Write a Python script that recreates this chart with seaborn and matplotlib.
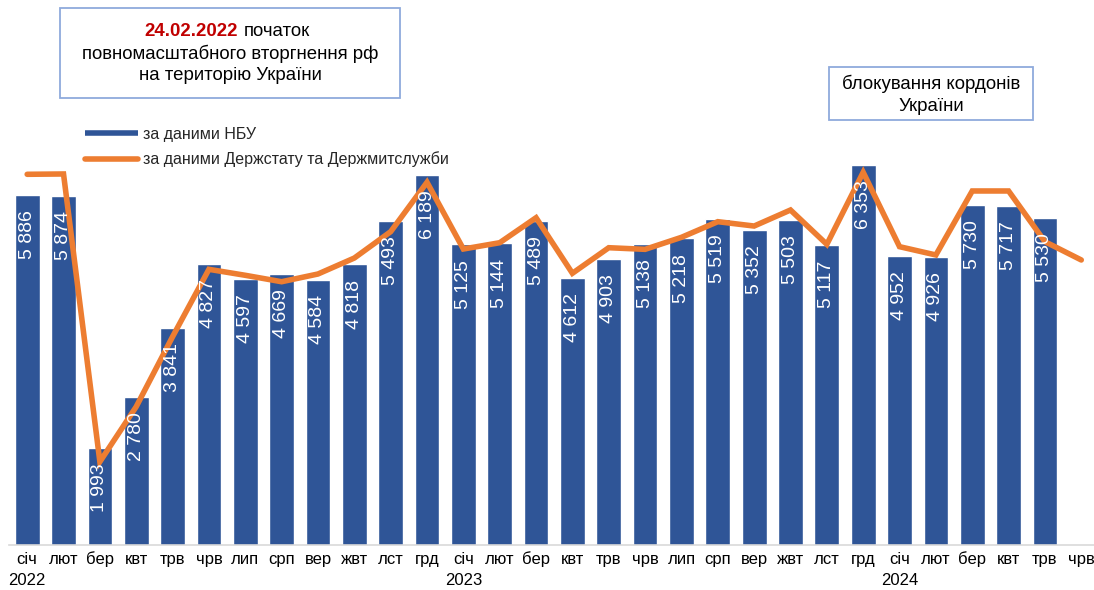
import numpy as np
import pandas as pd
import seaborn as sns
import matplotlib.pyplot as plt
from matplotlib.lines import Line2D
from matplotlib.patches import Rectangle

sns.set_theme(style="white")
plt.rcParams['font.family'] = ['Liberation Sans', 'DejaVu Sans']

# дані
months = ["січ", "лют", "бер", "квт", "трв", "чрв", "лип", "срп", "вер", "жвт", "лст", "грд"] * 2 + \
         ["січ", "лют", "бер", "квт", "трв", "чрв"]
years = [2022] * 12 + [2023] * 12 + [2024] * 6
nbu = [5886, 5874, 1993, 2780, 3841, 4827, 4597, 4669, 4584, 4818, 5493, 6189,
       5125, 5144, 5489, 4612, 4903, 5138, 5218, 5519, 5352, 5503, 5117, 6353,
       4952, 4926, 5730, 5717, 5530, np.nan]
derzhstat = [6205, 6210, 1777, 2625, 3703, 4741, 4649, 4550, 4669, 4915, 5321, 6082,
             5054, 5151, 5536, 4680, 5074, 5049, 5234, 5475, 5408, 5655, 5126, 6236,
             5090, 4962, 5948, 5948, 5167, 4885]

df = pd.DataFrame({
    'key': [f"{m} {y}" for m, y in zip(months, years)],
    'pos': np.arange(len(months)),
    'nbu': nbu,
    'derzhstat': derzhstat,
})

blue = '#2F5597'
orange = '#ED7D31'

fig = plt.figure(figsize=(10.94, 5.9), dpi=100)
ax = fig.add_axes([9 / 1094, 1 - 544.6 / 590, 1085 / 1094, (544.6 - 122.7) / 590])

sns.barplot(data=df, x='key', y='nbu', order=list(df['key']), color=blue,
            width=0.68, saturation=1, ax=ax, zorder=2)
sns.lineplot(data=df, x='pos', y='derzhstat', color=orange, linewidth=4,
             ax=ax, zorder=3, solid_capstyle='round', solid_joinstyle='miter')

# підписи значень
for i, v in enumerate(nbu):
    if np.isnan(v):
        continue
    ax.annotate(f"{int(v):,}".replace(",", " "), (i, v), xytext=(0, -11),
                textcoords='offset points', ha='center', va='top', rotation=90,
                color='white', fontsize=14, zorder=5)

ax.set_ylim(500, 7000)
ax.set_xlim(-0.5, 29.35)
ax.set_yticks([])
ax.set_xlabel("")
ax.set_ylabel("")
ticklabels = [f"{m}\n{y}" if m == "січ" else m for m, y in zip(months, years)]
ax.set_xticks(range(len(months)))
ax.set_xticklabels(ticklabels, fontsize=12, color='black', linespacing=1.5)
ax.tick_params(axis='x', length=0, pad=5)
for s in ['top', 'right', 'left']:
    ax.spines[s].set_visible(False)
ax.spines['bottom'].set_color('#D9D9D9')
ax.spines['bottom'].set_linewidth(1.2)

# легенда
handles = [Line2D([0], [0], color=blue, lw=4, solid_capstyle='butt'),
           Line2D([0], [0], color=orange, lw=4, solid_capstyle='round')]
fig.legend(handles, ["за даними НБУ", "за даними Держстату та Держмитслужби"],
           loc='upper left', bbox_to_anchor=(85 / 1094, 1 - 127 / 590),
           frameon=False, fontsize=11.5, handlelength=3.3, handletextpad=0.35,
           labelspacing=0.6, borderpad=0, borderaxespad=0)

# примітки
def px(x, y):
    return x / 1094, 1 - y / 590

box_color = '#8FAADC'
fig.patches.append(Rectangle(px(60, 98), 340 / 1094, 90 / 590, transform=fig.transFigure,
                             fill=True, facecolor='white', edgecolor=box_color, lw=1.3))
fig.text(*px(238, 32), "24.02.2022", color='#C00000', fontweight='bold',
         fontsize=13.4, ha='right', va='center')
fig.text(*px(244, 32), "початок", color='black', fontsize=13.4, ha='left', va='center')
fig.text(*px(230, 54), "повномасштабного вторгнення рф",
         color='black', fontsize=13.4, ha='center', va='center')
fig.text(*px(230, 76), "на територію України",
         color='black', fontsize=13.4, ha='center', va='center')

fig.patches.append(Rectangle(px(829, 120), 204 / 1094, 53 / 590, transform=fig.transFigure,
                             fill=True, facecolor='white', edgecolor=box_color, lw=1.3))
fig.text(*px(931, 84), "блокування кордонів", color='black', fontsize=13.4,
         ha='center', va='center')
fig.text(*px(931, 106), "України", color='black', fontsize=13.4,
         ha='center', va='center')

fig.savefig("out.png", dpi=100)
